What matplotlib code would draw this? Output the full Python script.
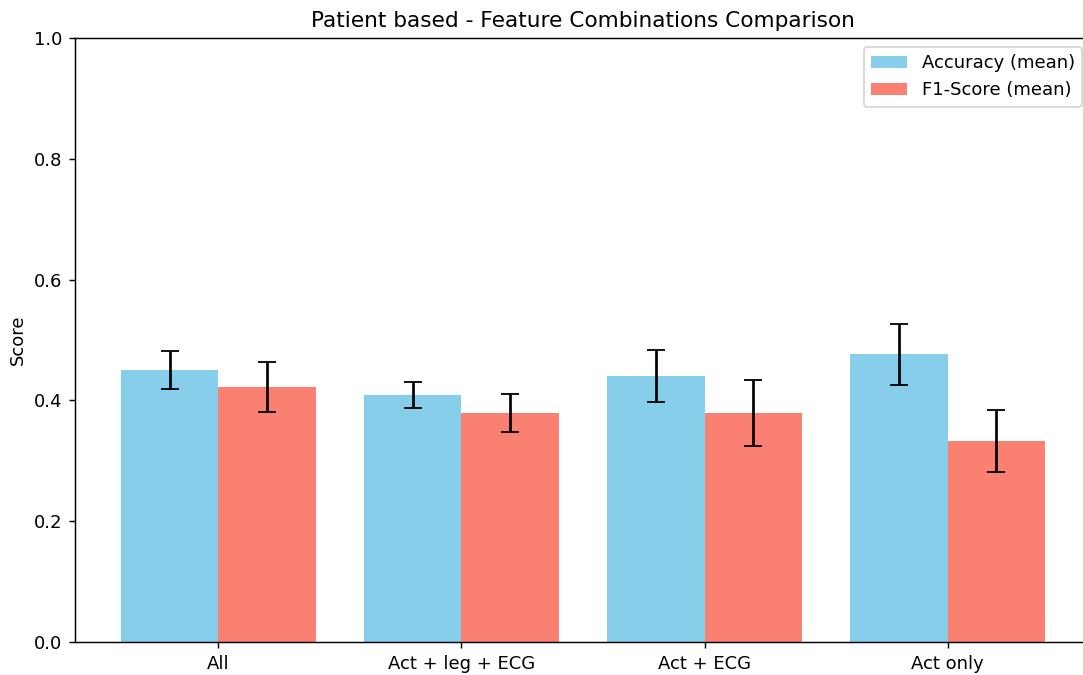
import numpy as np
import matplotlib.pyplot as plt

combos = ['All', 'Act + leg + ECG', 'Act + ECG', 'Act only']
acc_mean = [0.450, 0.409, 0.440, 0.476]
acc_std = [0.031, 0.022, 0.043, 0.051]
f1_mean = [0.422, 0.379, 0.379, 0.333]
f1_std = [0.041, 0.032, 0.055, 0.051]

x = np.arange(len(combos))
w = 0.4

fig = plt.figure(figsize=(1083 / 130, 675 / 130), dpi=130)
ax = fig.add_axes([75 / 1083, 33 / 675, 1016 / 1083, 604 / 675])

ax.bar(x - w / 2, acc_mean, w, yerr=acc_std, capsize=5, color='skyblue',
       label='Accuracy (mean)')
ax.bar(x + w / 2, f1_mean, w, yerr=f1_std, capsize=5, color='salmon',
       label='F1-Score (mean)')

ax.set_xticks(x)
ax.set_xticklabels(combos)
ax.set_ylim(0, 1)
ax.set_ylabel('Score')
ax.set_title('Patient based - Feature Combinations Comparison')
ax.legend(loc='upper right')

fig.savefig('out.png', dpi=130)
